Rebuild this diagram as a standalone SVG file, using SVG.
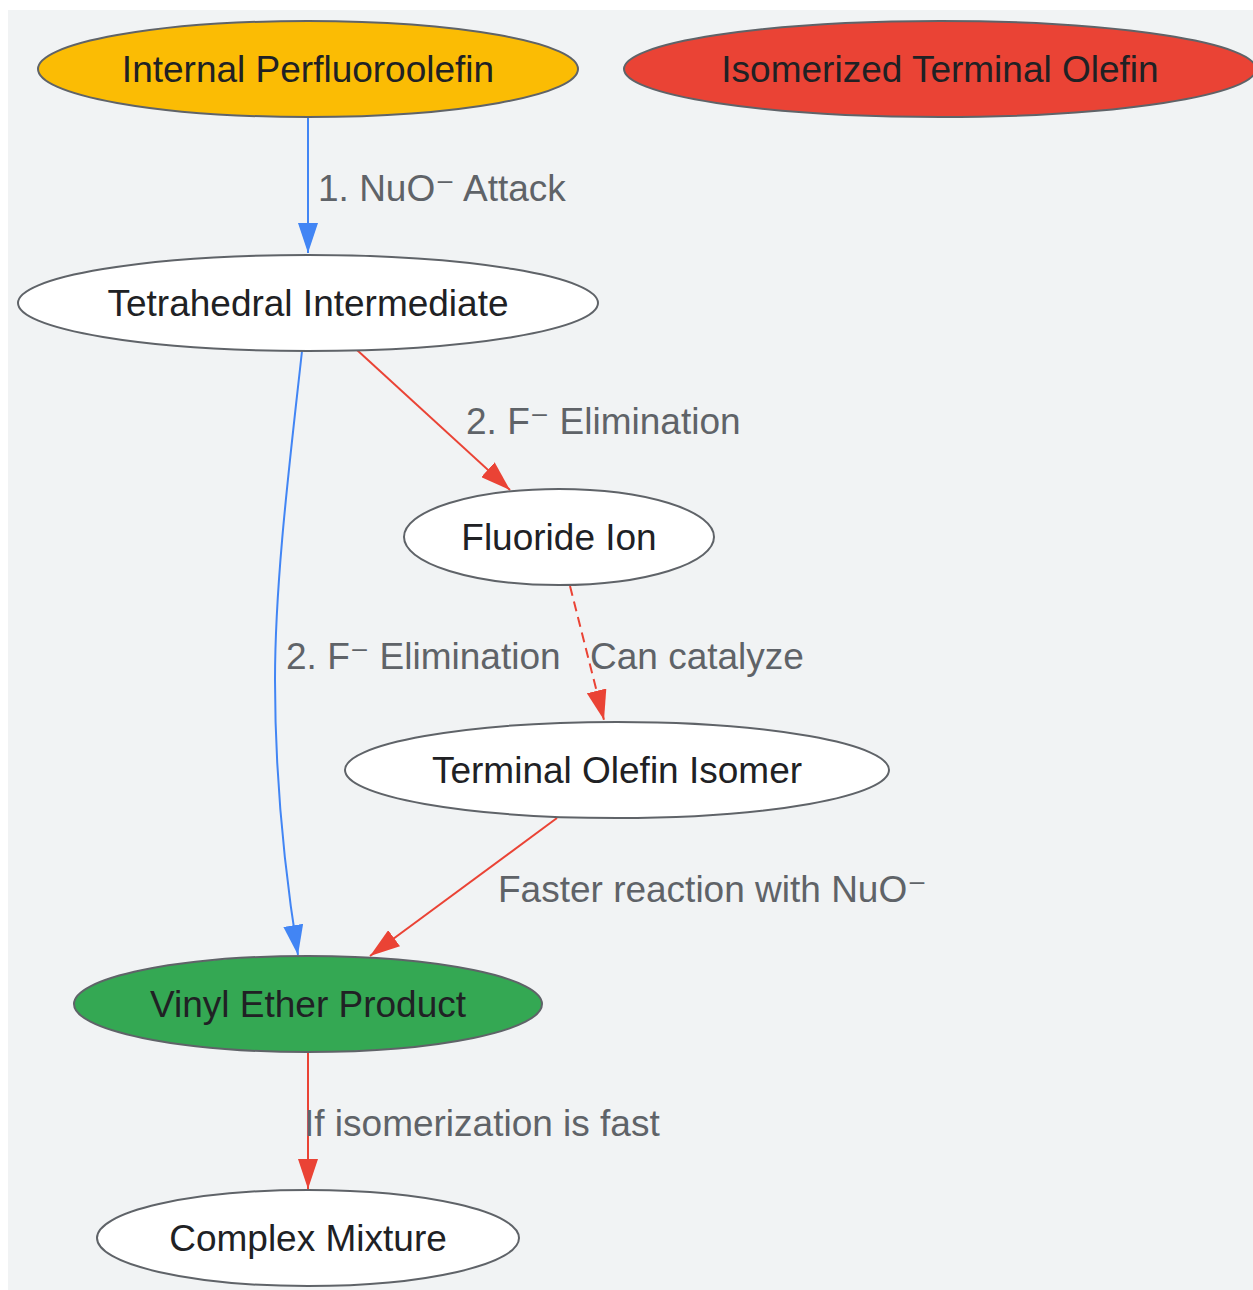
<svg xmlns="http://www.w3.org/2000/svg" width="1253" height="1290" viewBox="0 0 1253 1290">
<style>
.node ellipse{stroke:#5f6368;stroke-width:2}
.node text{font-family:"Liberation Sans",Arial,sans-serif;font-size:37px;fill:#202124;text-anchor:middle}
.edge{fill:none;stroke-width:2}
.blue{stroke:#4285f4}
.red{stroke:#ea4335}
.lbl{font-family:"Liberation Sans",Arial,sans-serif;font-size:37px;fill:#5f6368}
.sm{font-family:"DejaVu Sans",sans-serif}
</style>
<defs>
<marker id="ab" viewBox="0 0 30 20" refX="30" refY="10" markerWidth="30" markerHeight="20" markerUnits="userSpaceOnUse" orient="auto"><path d="M0,0 L30,10 L0,20 z" fill="#4285f4"/></marker>
<marker id="ar" viewBox="0 0 30 20" refX="30" refY="10" markerWidth="30" markerHeight="20" markerUnits="userSpaceOnUse" orient="auto"><path d="M0,0 L30,10 L0,20 z" fill="#ea4335"/></marker>
</defs>
<rect x="8" y="10" width="1245" height="1280" fill="#f1f3f4"/>
<g id="edges">
<path class="edge blue" d="M308,117 L308,253" marker-end="url(#ab)"/>
<text class="lbl" x="318" y="201">1. NuO<tspan class="sm">⁻</tspan> Attack</text>
<path class="edge red" d="M357,350 L510,490" marker-end="url(#ar)"/>
<text class="lbl" x="466" y="434">2. F<tspan class="sm">⁻</tspan> Elimination</text>
<path class="edge blue" d="M302,351 C290,460 275,580 275,680 C275,790 286,880 298,955" marker-end="url(#ab)"/>
<text class="lbl" x="286" y="669">2. F<tspan class="sm">⁻</tspan> Elimination</text>
<path class="edge red" d="M570,586 L604,720" stroke-dasharray="10,6" marker-end="url(#ar)"/>
<text class="lbl" x="590" y="669">Can catalyze</text>
<path class="edge red" d="M557,818 L370,956" marker-end="url(#ar)"/>
<text class="lbl" x="498" y="902">Faster reaction with NuO<tspan class="sm">⁻</tspan></text>
<path class="edge red" d="M308,1052 L308,1189" marker-end="url(#ar)"/>
<text class="lbl" x="304" y="1136">If isomerization is fast</text>
</g>
<g id="n1" class="node"><ellipse cx="308" cy="69" rx="270" ry="48" fill="#fbbc04"/><text x="308" y="82">Internal Perfluoroolefin</text></g>
<g id="n2" class="node"><ellipse cx="940" cy="69" rx="316" ry="48" fill="#ea4335"/><text x="940" y="82">Isomerized Terminal Olefin</text></g>
<g id="n3" class="node"><ellipse cx="308" cy="303" rx="290" ry="48" fill="#ffffff"/><text x="308" y="316">Tetrahedral Intermediate</text></g>
<g id="n4" class="node"><ellipse cx="559" cy="537" rx="155" ry="48" fill="#ffffff"/><text x="559" y="550">Fluoride Ion</text></g>
<g id="n5" class="node"><ellipse cx="617" cy="770" rx="272" ry="48" fill="#ffffff"/><text x="617" y="783">Terminal Olefin Isomer</text></g>
<g id="n6" class="node"><ellipse cx="308" cy="1004" rx="234" ry="48" fill="#34a853"/><text x="308" y="1017">Vinyl Ether Product</text></g>
<g id="n7" class="node"><ellipse cx="308" cy="1238" rx="211" ry="48" fill="#ffffff"/><text x="308" y="1251">Complex Mixture</text></g>
</svg>
